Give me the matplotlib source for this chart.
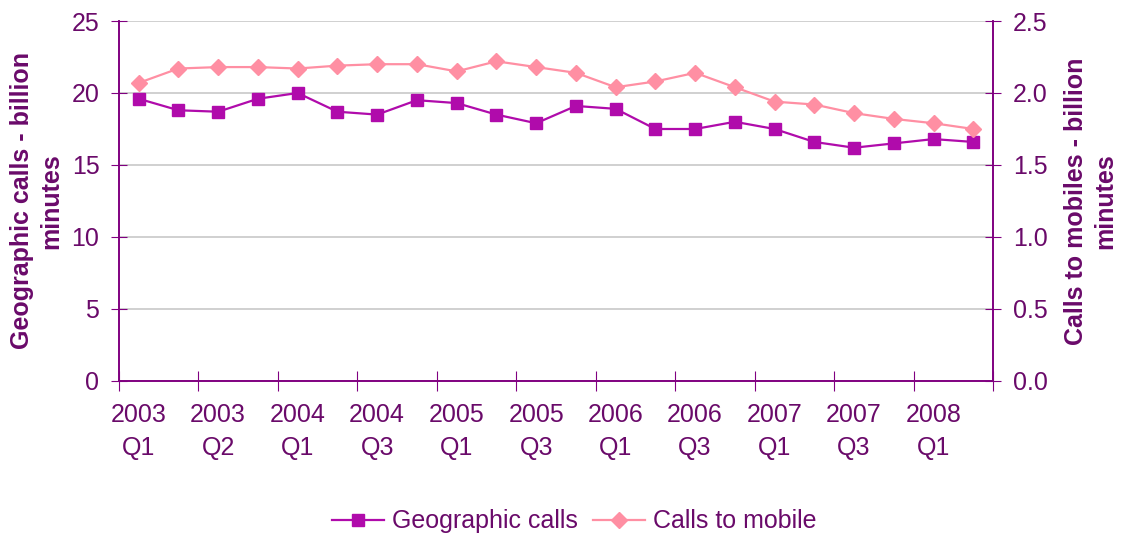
import matplotlib
matplotlib.use('Agg')
import matplotlib.pyplot as plt

# quarterly call volumes, 2003 Q1 .. 2008 Q2
quarters = ['2003\nQ1', '2003\nQ2', '2004\nQ1', '2004\nQ3', '2005\nQ1', '2005\nQ3',
            '2006\nQ1', '2006\nQ3', '2007\nQ1', '2007\nQ3', '2008\nQ1']
geographic = [19.6, 18.8, 18.7, 19.6, 20.0, 18.7, 18.5, 19.5, 19.3, 18.5, 17.9,
              19.1, 18.9, 17.5, 17.5, 18.0, 17.5, 16.6, 16.2, 16.5, 16.8, 16.6]
mobile = [2.07, 2.17, 2.18, 2.18, 2.17, 2.19, 2.20, 2.20, 2.15, 2.22, 2.18,
          2.14, 2.04, 2.08, 2.14, 2.04, 1.94, 1.92, 1.86, 1.82, 1.79, 1.75]

plt.rcParams['font.family'] = ['Liberation Sans', 'DejaVu Sans']
txt = '#6a0a6a'
axc = '#800080'
c_geo = '#b00bab'
c_mob = '#ff8fa3'
fs = 18

fig = plt.figure(figsize=(11.21, 5.33), dpi=100)
ax = fig.add_axes([0.106, 0.2852, 0.78, 0.6754])
ax2 = ax.twinx()

x = list(range(len(geographic)))
l1, = ax.plot(x, geographic, color=c_geo, marker='s', markersize=8, lw=1.6, label='Geographic calls')
l2, = ax2.plot(x, mobile, color=c_mob, marker='D', markersize=8, lw=1.6, label='Calls to mobile')

ax.set_xlim(-0.5, len(x) - 0.5)
ax.set_ylim(0, 25)
ax2.set_ylim(0, 2.5)
ax.set_yticks(range(0, 26, 5))
ax2.set_yticks([0, 0.5, 1.0, 1.5, 2.0, 2.5])
ax2.set_yticklabels(['0.0', '0.5', '1.0', '1.5', '2.0', '2.5'])
ax.yaxis.grid(True, color='#c8c8c8', lw=1.2)
ax.set_axisbelow(True)

# boundary ticks every 2 quarters, labels on the quarter itself
ax.set_xticks([i - 0.5 for i in range(0, len(x) + 1, 2)])
ax.set_xticklabels([])
ax.set_xticks(list(range(0, len(x), 2)), minor=True)
ax.set_xticklabels(quarters, minor=True, fontsize=fs, color=txt, linespacing=1.45)
ax.tick_params(axis='x', which='major', direction='inout', length=14, color=axc)
ax.tick_params(axis='x', which='minor', length=0, pad=16)
ax.tick_params(axis='y', direction='inout', length=12, color=axc, labelsize=fs, labelcolor=txt, pad=8)
ax2.tick_params(axis='y', direction='inout', length=12, color=axc, labelsize=fs, labelcolor=txt, pad=8)

for a in (ax, ax2):
    a.spines['top'].set_visible(False)
    for s in ('left', 'right', 'bottom'):
        a.spines[s].set_color(axc)
        a.spines[s].set_linewidth(1.2)

ax.set_ylabel('Geographic calls - billion\nminutes', fontsize=fs, fontweight='bold', color=txt,
              labelpad=6, linespacing=1.25)
ax2.set_ylabel('Calls to mobiles - billion\nminutes', fontsize=fs, fontweight='bold', color=txt,
               labelpad=12, linespacing=1.25)

fig.legend(handles=[l1, l2], loc='center', bbox_to_anchor=(0.512, 0.022), ncol=2, frameon=False,
           fontsize=fs, labelcolor=txt, handlelength=2.1, columnspacing=0.6, handletextpad=0.3)

fig.savefig('out.png', dpi=100)
